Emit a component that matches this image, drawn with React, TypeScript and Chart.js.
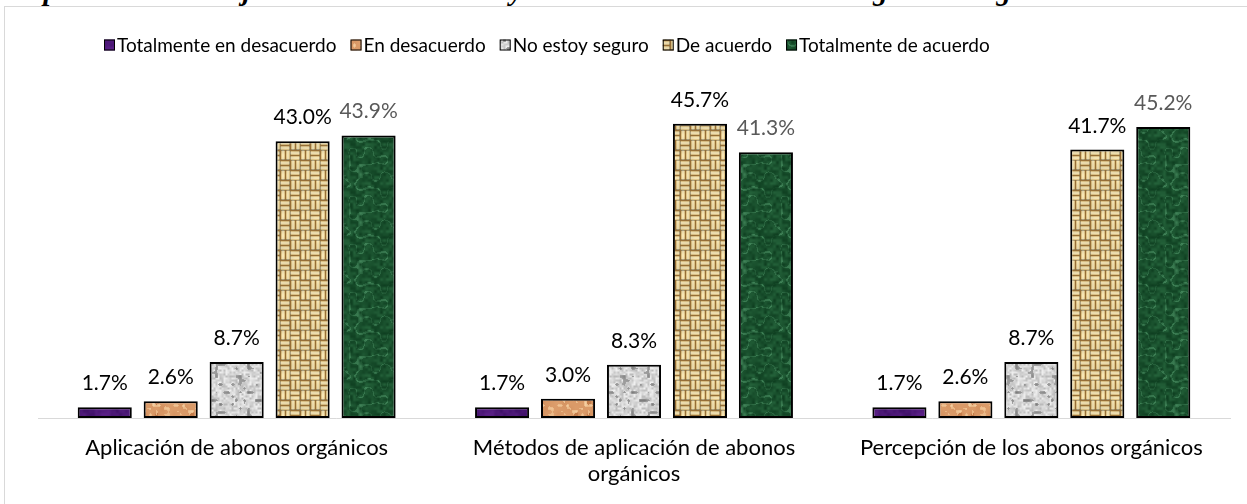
import React, { useEffect, useRef } from "react";
import { Chart, registerables } from "chart.js";

Chart.register(...registerables);

const categories: string[][] = [
  ["Aplicación de abonos orgánicos"],
  ["Métodos de aplicación de abonos", "orgánicos"],
  ["Percepción de los abonos orgánicos"],
];
const seriesNames = [
  "Totalmente en desacuerdo",
  "En desacuerdo",
  "No estoy seguro",
  "De acuerdo",
  "Totalmente de acuerdo",
];
const totDesacuerdo = [1.7, 1.7, 1.7];
const desacuerdo = [2.6, 3.0, 2.6];
const noSeguro = [8.7, 8.3, 8.7];
const deAcuerdo = [43.0, 45.7, 41.7];
const totAcuerdo = [43.9, 41.3, 45.2];
const seriesValues = [totDesacuerdo, desacuerdo, noSeguro, deAcuerdo, totAcuerdo];
const labelColors = ["#000000", "#000000", "#000000", "#000000", "#595959"];

const titleText =
  "Respuestas de los sujetos sobre la variable y sobre el uso de los abonos orgánicos según la dimensión";

const FONT = "Lato, 'Noto Sans', sans-serif";

function hash(x: number, y: number, s: number) {
  const v = Math.sin(x * 12.9898 + y * 78.233 + s * 37.719) * 43758.5453;
  return v - Math.floor(v);
}
function vnoise(x: number, y: number, cell: number, period: number, seed: number) {
  const gx = x / cell, gy = y / cell;
  const x0 = Math.floor(gx), y0 = Math.floor(gy);
  const fx = gx - x0, fy = gy - y0;
  const sx = fx * fx * (3 - 2 * fx), sy = fy * fy * (3 - 2 * fy);
  const p = period;
  const a = hash(x0 % p, y0 % p, seed);
  const b = hash((x0 + 1) % p, y0 % p, seed);
  const c = hash(x0 % p, (y0 + 1) % p, seed);
  const d = hash((x0 + 1) % p, (y0 + 1) % p, seed);
  const top = a + (b - a) * sx;
  const bot = c + (d - c) * sx;
  return top + (bot - top) * sy;
}
function mix(c1: number[], c2: number[], t: number) {
  return [0, 1, 2].map((i) => c1[i] + (c2[i] - c1[i]) * t);
}

function makePattern(
  target: CanvasRenderingContext2D,
  size: number,
  fn: (x: number, y: number) => number[]
) {
  const c = document.createElement("canvas");
  c.width = size;
  c.height = size;
  const ctx = c.getContext("2d")!;
  const img = ctx.createImageData(size, size);
  for (let y = 0; y < size; y++) {
    for (let x = 0; x < size; x++) {
      const [r, g, b] = fn(x, y);
      const i = (y * size + x) * 4;
      img.data[i] = Math.max(0, Math.min(255, r));
      img.data[i + 1] = Math.max(0, Math.min(255, g));
      img.data[i + 2] = Math.max(0, Math.min(255, b));
      img.data[i + 3] = 255;
    }
  }
  ctx.putImageData(img, 0, 0);
  return target.createPattern(c, "repeat")!;
}

function buildPatterns(t: CanvasRenderingContext2D) {
  const purple = makePattern(t, 48, (x, y) => {
    const n = vnoise(x, y, 6, 8, 1) * 0.6 + vnoise(x, y, 3, 16, 2) * 0.4;
    return mix([55, 12, 95], [95, 35, 140], n);
  });
  const orange = makePattern(t, 48, (x, y) => {
    const n = vnoise(x, y, 3, 16, 3);
    const m = vnoise(x, y, 6, 8, 4);
    if (n > 0.62) return mix([232, 180, 130], [245, 210, 165], (n - 0.62) * 2.5);
    if (m < 0.3) return [196, 125, 75];
    return mix([208, 140, 90], [222, 160, 110], m);
  });
  const grey = makePattern(t, 48, (x, y) => {
    const n = vnoise(x, y, 4, 12, 5);
    const m = vnoise(x, y, 2, 24, 6);
    if (n < 0.28) return mix([125, 125, 125], [165, 165, 165], n / 0.28);
    const v = 185 + m * 55;
    return [v, v, v];
  });
  const tan = makePattern(t, 20, (x, y) => {
    const bx = Math.floor(x / 10), by = Math.floor(y / 10);
    const horiz = (bx + by) % 2 === 0;
    const l = horiz ? y % 10 : x % 10;
    const along = horiz ? x % 10 : y % 10;
    const s = l % 5;
    if (s === 0) return [150, 110, 55];
    const base = s === 2 || s === 3 ? [245, 228, 180] : [222, 196, 135];
    const shade = along === 0 || along === 9 ? 0.72 : 1;
    const n = vnoise(x, y, 5, 4, 9);
    return base.map((v) => v * shade * (0.92 + n * 0.1));
  });
  const green = makePattern(t, 48, (x, y) => {
    const n = vnoise(x, y, 8, 6, 7);
    const m = vnoise(x, y, 3, 16, 8);
    const vein = Math.abs(n - 0.5) < 0.06 ? 0.7 : 0;
    const base = mix([14, 62, 32], [36, 98, 58], m);
    return mix(base, [80, 150, 105], vein * m);
  });
  return [purple, orange, grey, tan, green];
}

const labelPlugin = {
  id: "valueLabels",
  afterDatasetsDraw(chart: any) {
    const ctx = chart.ctx;
    ctx.save();
    ctx.font = `21px ${FONT}`;
    ctx.textAlign = "center";
    ctx.textBaseline = "alphabetic";
    chart.data.datasets.forEach((ds: any, di: number) => {
      const meta = chart.getDatasetMeta(di);
      meta.data.forEach((bar: any, i: number) => {
        ctx.fillStyle = labelColors[di];
        ctx.fillText(`${ds.data[i].toFixed(1)}%`, bar.x, bar.y - 17);
      });
    });
    ctx.restore();
  },
};

const legendPlugin = {
  id: "customLegend",
  afterDraw(chart: any) {
    const ctx = chart.ctx;
    ctx.save();
    ctx.font = `19px ${FONT}`;
    ctx.textBaseline = "middle";
    ctx.textAlign = "left";
    let x = 104;
    const cy = 45;
    chart.data.datasets.forEach((ds: any) => {
      ctx.fillStyle = ds.backgroundColor;
      ctx.fillRect(x, cy - 5.5, 11, 11);
      ctx.strokeStyle = "#000000";
      ctx.lineWidth = 1;
      ctx.strokeRect(x + 0.5, cy - 5, 10, 10);
      ctx.fillStyle = "#000000";
      const tx = x + 13;
      ctx.fillText(ds.label, tx, cy + 1);
      x = tx + ctx.measureText(ds.label).width + 14;
    });
    ctx.restore();
  },
};

export default function App() {
  const ref = useRef<HTMLCanvasElement>(null);
  useEffect(() => {
    const canvas = ref.current!;
    const ctx = canvas.getContext("2d")!;
    const patterns = buildPatterns(ctx);
    const chart = new Chart(ctx, {
      type: "bar",
      data: {
        labels: categories,
        datasets: seriesNames.map((name, i) => ({
          label: name,
          data: seriesValues[i],
          backgroundColor: patterns[i],
          borderColor: "#000000",
          borderWidth: 2,
          borderSkipped: false,
          categoryPercentage: 0.83,
          barPercentage: 0.82,
        })),
      },
      options: {
        responsive: false,
        animation: false,
        layout: { padding: { left: 38, right: 17, top: 64, bottom: 0 } },
        plugins: {
          legend: { display: false },
          tooltip: { enabled: false },
        },
        scales: {
          x: {
            grid: { display: false, drawTicks: false },
            border: { display: true, color: "#D9D9D9", width: 1 },
            ticks: {
              color: "#000000",
              padding: 17,
              font: { family: FONT, size: 22, lineHeight: 1.18 },
              maxRotation: 0,
              autoSkip: false,
            },
          },
          y: { display: false, min: 0, max: 55 },
        },
      },
      plugins: [labelPlugin, legendPlugin],
    } as any);
    return () => chart.destroy();
  }, []);

  return (
    <div
      style={{
        position: "fixed",
        left: 0,
        top: 0,
        width: 1247,
        height: 504,
        overflow: "hidden",
        background: "#ffffff",
      }}
    >
      <div
        style={{
          position: "absolute",
          left: 0,
          top: -24,
          whiteSpace: "nowrap",
          fontFamily: "'Liberation Serif', 'Times New Roman', serif",
          fontWeight: "bold",
          fontStyle: "italic",
          fontSize: 29,
          lineHeight: "29px",
          color: "#000",
        }}
      >
        {titleText}
      </div>
      <div
        style={{
          position: "absolute",
          left: 4,
          top: 6,
          width: 1300,
          height: 600,
          borderTop: "1px solid #D9D9D9",
          borderLeft: "1px solid #D9D9D9",
          background: "#ffffff",
        }}
      />
      <canvas
        ref={ref}
        width={1247}
        height={504}
        style={{ position: "absolute", left: 0, top: 0, width: 1247, height: 504 }}
      />
    </div>
  );
}
